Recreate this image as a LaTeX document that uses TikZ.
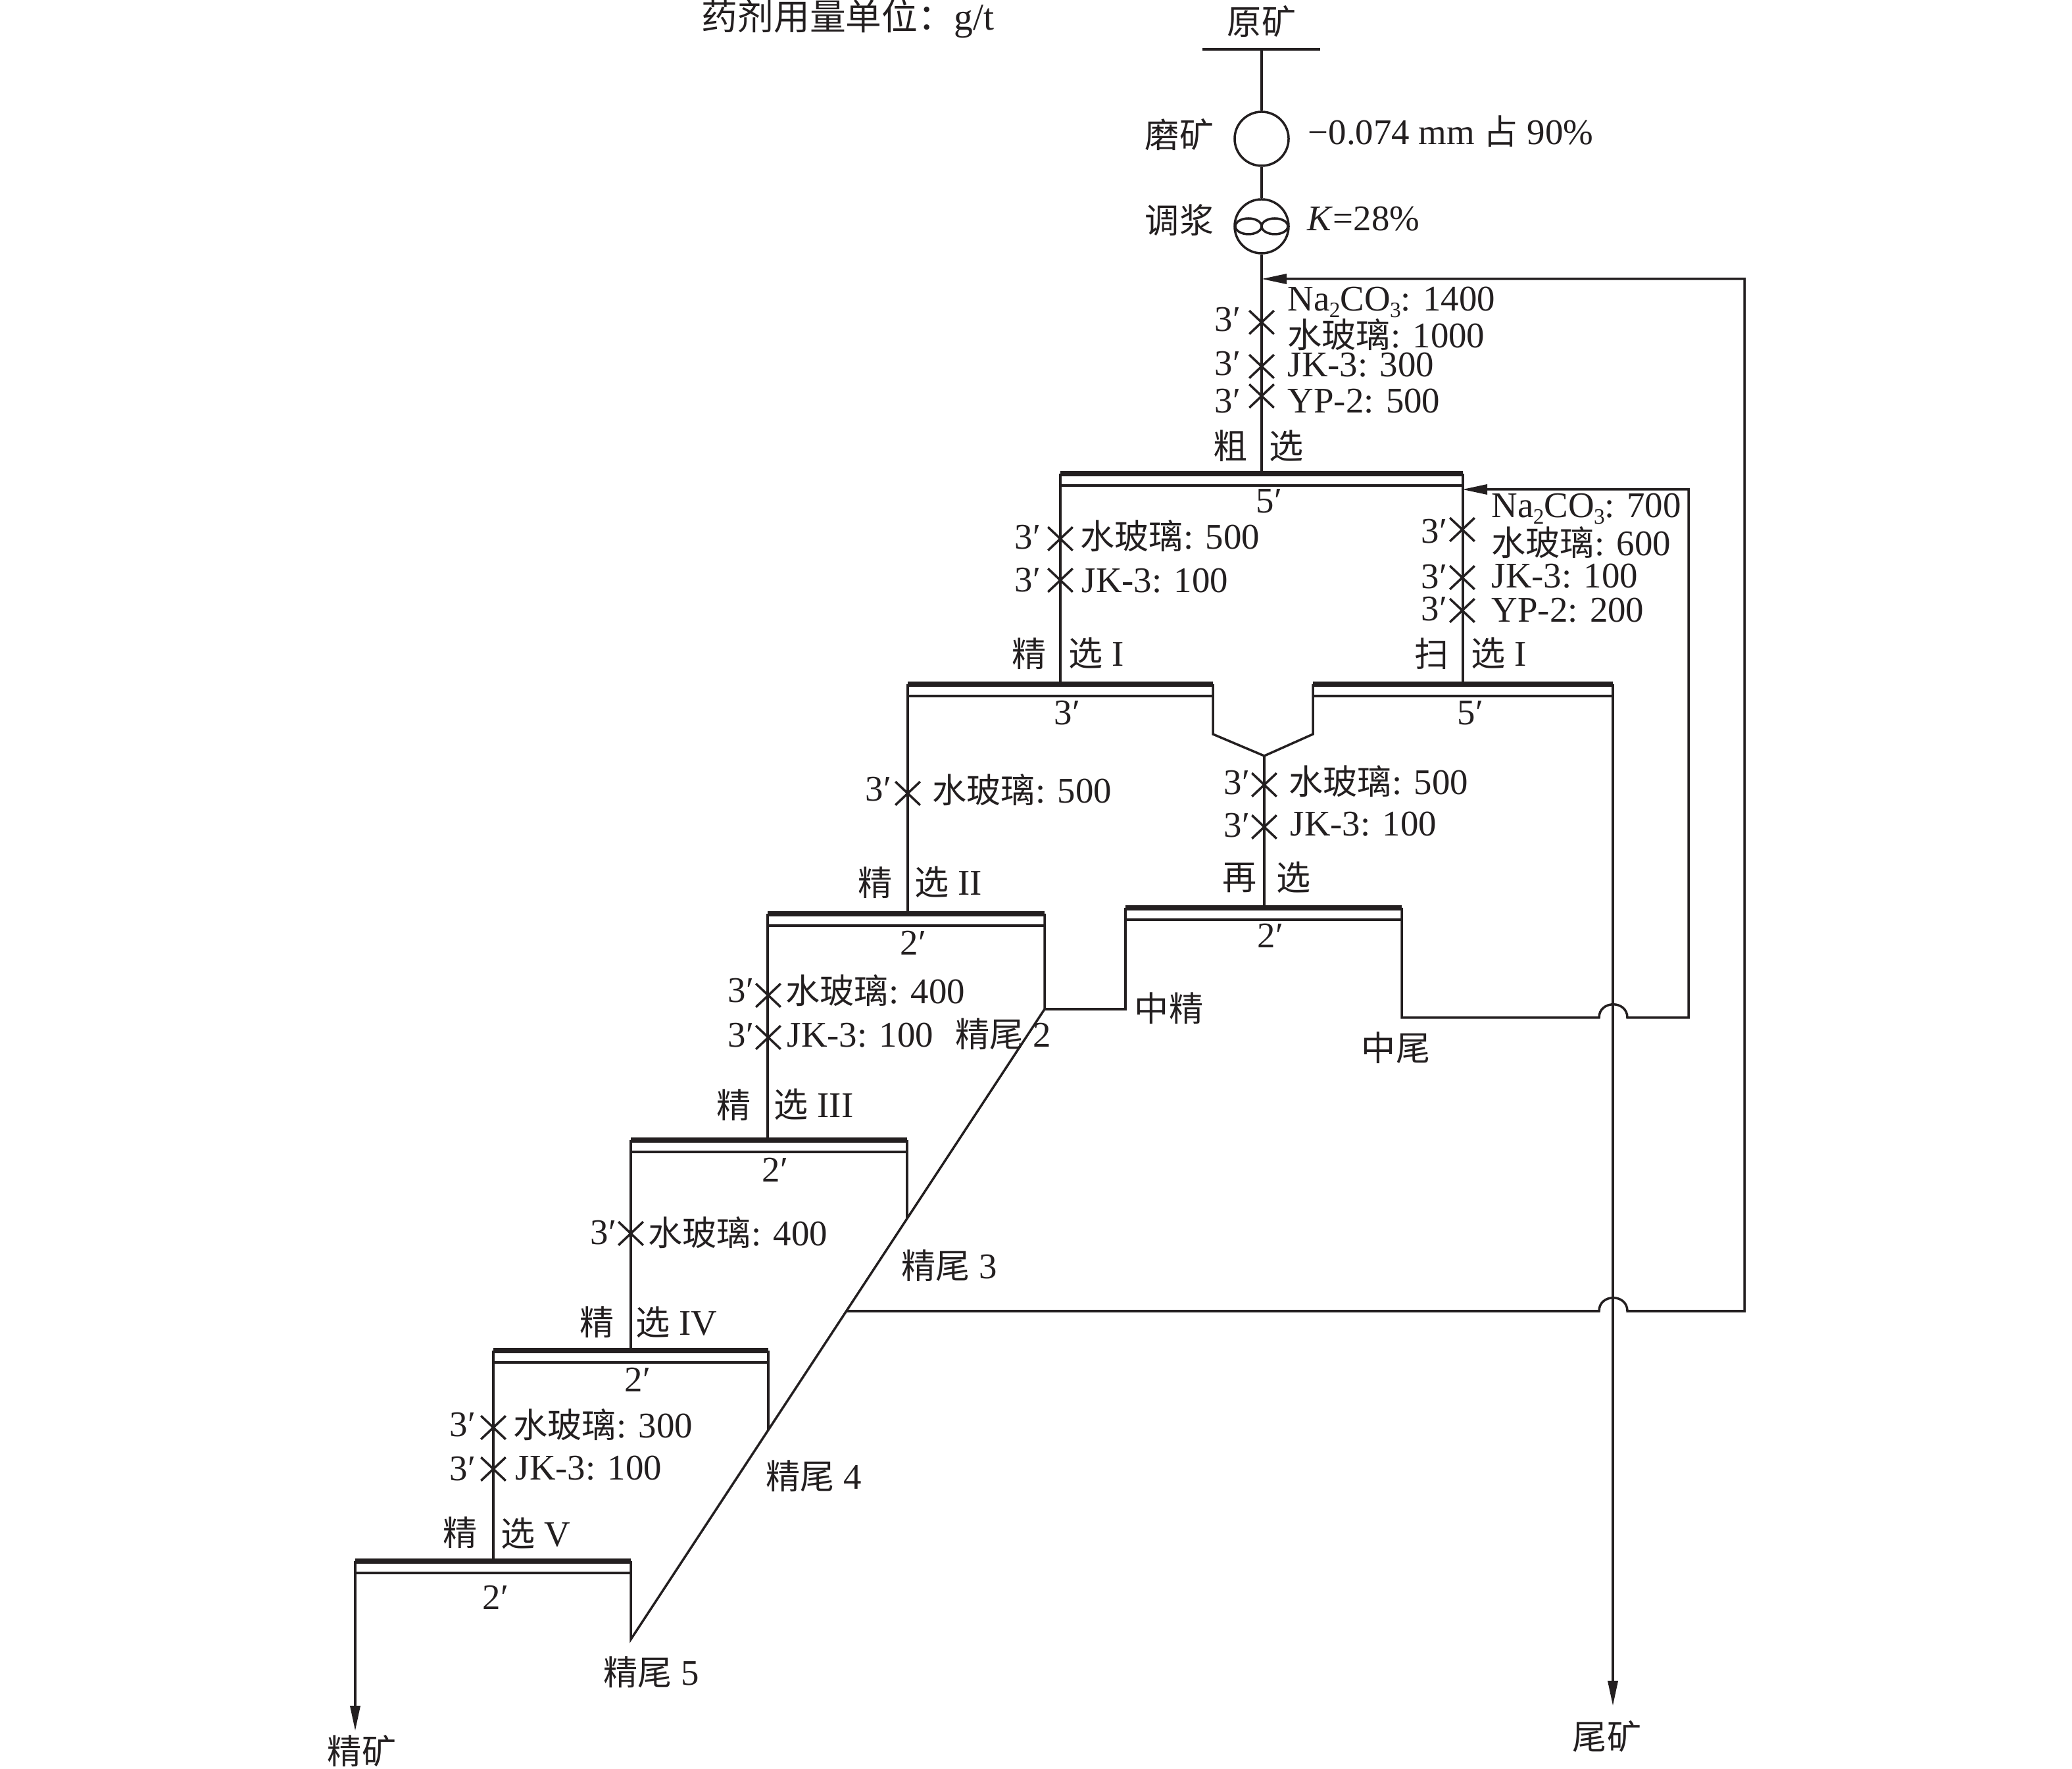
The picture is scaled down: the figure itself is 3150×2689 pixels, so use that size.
\documentclass[tikz,border=0pt]{standalone}
\usepackage{fontspec}
\setmainfont{Liberation Serif}
\newfontfamily\cjkfont[Scale=0.95]{Noto Sans CJK SC}
\newcommand{\zh}[1]{{\cjkfont #1}}
\newcommand{\chem}[1]{\kern-0.2pt\raisebox{-0.17em}{\fontsize{9.5}{9.5}\selectfont #1}}
\usetikzlibrary{arrows.meta,shapes.misc}
\definecolor{ink}{HTML}{231F20}
\tikzset{
  pipe/.style={draw=ink,line width=0.035cm,line join=miter},
  flow/.style={pipe,-{Triangle[length=0.38cm,width=0.15cm]}},
  cellbar/.style={draw=ink,line width=0.08cm},
  lab/.style={anchor=base west,inner sep=0pt,text=ink,font=\fontsize{15.6}{18}\selectfont},
  zhlab/.style={lab,anchor=center},
  stir/.style={draw=ink,line width=0.035cm,cross out,inner sep=0pt,minimum width=0.34cm,minimum height=0.32cm},
  tank/.style={circle,draw=ink,line width=0.035cm,inner sep=0pt,minimum size=0.82cm},
}
% name, left x, right x, y of the heavy line
\newcommand{\cell}[4]{
  \coordinate (#1l) at (#2,#4);
  \coordinate (#1r) at (#3,#4);
  \draw[cellbar] (#1l) -- (#1r);
  \draw[pipe] (#2,#4+18) -- (#3,#4+18);
}
\begin{document}
\begin{tikzpicture}[x=0.01cm,y=-0.01cm]
  \useasboundingbox (0,0) rectangle (3150,2689);

  % cells
  \cell{ro}{1612}{2224}{720}
  \cell{ca}{1380}{1844}{1040}
  \cell{sc}{1996}{2452}{1040}
  \cell{re}{1711}{2131}{1380}
  \cell{cb}{1167}{1588}{1389}
  \cell{cc}{959}{1379}{1733}
  \cell{cd}{750}{1168}{2053}
  \cell{ce}{540}{959}{2373}

  % feed end
  \coordinate (feedl) at (1828,75);
  \coordinate (feedr) at (2007,75);
  \coordinate (feed) at (1918,75);
  \node[tank] (mill) at (1918,211) {};
  \node[tank] (cond) at (1918,344) {};
  \draw[pipe] (feedl) -- (feedr);
  \draw[pipe] (feed) -- (mill);
  \draw[pipe] (mill) -- (cond);
  \draw[pipe] (cond) -- (1918,720);
  \draw[pipe] (cond.center) ++(-20,0) ellipse (20 and 12);
  \draw[pipe] (cond.center) ++(20,0) ellipse (20 and 12);

  % joints
  \coordinate (vee) at (1922,1149);
  \coordinate (midjoin) at (1588,1534);
  \coordinate (slopeend) at (959,2492);
  \coordinate (hopal) at (2431,1547);
  \coordinate (hopar) at (2474,1547);
  \coordinate (hopbl) at (2431,1993);
  \coordinate (hopbr) at (2474,1993);
  \coordinate (slopetap) at (1286,1993);
  \coordinate (feedin) at (1918,424);
  \coordinate (scavin) at (2223,744);
  \coordinate (concout) at (540,2631);
  \coordinate (tailout) at (2452,2593);

  % concentrate side
  \draw[pipe] (rol) -- (rol |- cal);
  \draw[pipe] (cal) -- (cal |- cbl);
  \draw[pipe] (cbl) -- (cbl |- ccl);
  \draw[pipe] (ccl) -- (ccl |- cdl);
  \draw[pipe] (cdl) -- (cdl |- cel);
  \draw[flow] (cel) -- (concout);

  % scavenger and cleaner tails
  \draw[pipe] (ror) -- (ror |- scl);
  \draw[pipe] (car) -- (1844,1116) -- (vee) -- (1996,1116) -- (scl);
  \draw[pipe] (vee) -- (vee |- rel);
  \draw[flow] (scr) -- (tailout);
  \draw[pipe] (cbr) -- (midjoin) -- (slopeend) -- (cer);
  \draw[pipe] (ccr) -- (1379,1851);
  \draw[pipe] (cdr) -- (1168,2173);
  \draw[pipe] (rel) -- (1711,1534) -- (midjoin);
  \draw[flow] (rer) -- (2131,1547) -- (hopal) .. controls +(0,-27) and +(0,-27) .. (hopar) -- (2567,1547) -- (2567,744) -- (scavin);
  \draw[flow] (slopetap) -- (hopbl) .. controls +(0,-27) and +(0,-27) .. (hopbr) -- (2652,1993) -- (2652,424) -- (feedin);

  % stirring marks
  \node[stir] (xa) at (1918,490) {};
  \node[stir] (xb) at (1918,557) {};
  \node[stir] (xc) at (1918,602) {};
  \node[stir] (xd) at (1612,819) {};
  \node[stir] (xe) at (1612,882) {};
  \node[stir] (xf) at (2223,805) {};
  \node[stir] (xg) at (2223,878) {};
  \node[stir] (xh) at (2223,928) {};
  \node[stir] (xi) at (1922,1193) {};
  \node[stir] (xj) at (1922,1257) {};
  \node[stir] (xk) at (1380,1206) {};
  \node[stir] (xl) at (1168,1513) {};
  \node[stir] (xm) at (1168,1577) {};
  \node[stir] (xn) at (959,1875) {};
  \node[stir] (xo) at (750,2170) {};
  \node[stir] (xp) at (750,2233) {};

  % head
  \node[lab,font=\fontsize{16.4}{18}\selectfont] (unit) at (1066,46) {\zh{药剂用量单位：}g/t};
  \node[zhlab] (orein) at (1918,33) {\zh{原矿}};
  \node[zhlab] (milllab) at (1793,205) {\zh{磨矿}};
  \node[lab] (grind) at (1988,220) {−0.074 mm \zh{占} 90\%};
  \node[zhlab] (condlab) at (1793,335) {\zh{调浆}};
  \node[lab] (solids) at (1987,351) {\textit{K}=28\%};

  % rougher
  \node[lab] (ta) at (1846,504) {3′};
  \node[lab] (tb) at (1846,571) {3′};
  \node[lab] (tc) at (1846,628) {3′};
  \node[lab] (ra) at (1957,473) {Na\chem{2}CO\chem{3}: 1400};
  \node[lab] (rb) at (1957,529) {\zh{水玻璃}: 1000};
  \node[lab] (rc) at (1957,573) {JK-3: 300};
  \node[lab] (rd) at (1957,628) {YP-2: 500};
  \node[zhlab] (rolaba) at (1871,678) {\zh{粗}};
  \node[zhlab] (rolabb) at (1956,678) {\zh{选}};
  \node[lab] (rot) at (1909,780) {5′};

  % cleaner I
  \node[lab] (td) at (1542,835) {3′};
  \node[lab] (te) at (1542,900) {3′};
  \node[lab] (cae) at (1642,835) {\zh{水玻璃}: 500};
  \node[lab] (caf) at (1644,901) {JK-3: 100};
  \node[zhlab] (calaba) at (1565,994) {\zh{精}};
  \node[lab] (calabb) at (1624,1013) {\zh{选} I};
  \node[lab] (cat) at (1602,1102) {3′};

  % scavenger
  \node[lab] (tf) at (2160,826) {3′};
  \node[lab] (tg) at (2160,895) {3′};
  \node[lab] (th) at (2160,944) {3′};
  \node[lab] (sa) at (2267,787) {Na\chem{2}CO\chem{3}: 700};
  \node[lab] (sb) at (2267,845) {\zh{水玻璃}: 600};
  \node[lab] (sc) at (2267,894) {JK-3: 100};
  \node[lab] (sd) at (2267,946) {YP-2: 200};
  \node[zhlab] (sclaba) at (2177,994) {\zh{扫}};
  \node[lab] (sclabb) at (2236,1013) {\zh{选} I};
  \node[lab] (sct) at (2215,1102) {5′};

  % recleaner
  \node[lab] (ti) at (1860,1208) {3′};
  \node[lab] (tj) at (1860,1273) {3′};
  \node[lab] (rea) at (1959,1208) {\zh{水玻璃}: 500};
  \node[lab] (reb) at (1961,1271) {JK-3: 100};
  \node[zhlab] (relaba) at (1885,1334) {\zh{再}};
  \node[zhlab] (relabb) at (1967,1334) {\zh{选}};
  \node[lab] (ret) at (1911,1441) {2′};
  \node[zhlab] (midc) at (1777,1533) {\zh{中精}};
  \node[zhlab] (midt) at (2122,1593) {\zh{中尾}};

  % cleaner II
  \node[lab] (tk) at (1315,1218) {3′};
  \node[lab] (cba) at (1417,1221) {\zh{水玻璃}: 500};
  \node[zhlab] (cblaba) at (1331,1342) {\zh{精}};
  \node[lab] (cblabb) at (1390,1361) {\zh{选} II};
  \node[lab] (cbt) at (1368,1452) {2′};

  % cleaner III
  \node[lab] (tl) at (1106,1524) {3′};
  \node[lab] (tm) at (1106,1592) {3′};
  \node[lab] (cca) at (1194,1526) {\zh{水玻璃}: 400};
  \node[lab] (ccb) at (1196,1592) {JK-3: 100};
  \node[lab] (tailb) at (1452,1592) {\zh{精尾} 2};
  \node[zhlab] (cclaba) at (1116,1680) {\zh{精}};
  \node[lab] (cclabb) at (1176,1699) {\zh{选} III};
  \node[lab] (cct) at (1158,1797) {2′};

  % cleaner IV
  \node[lab] (tn) at (897,1892) {3′};
  \node[lab] (cda) at (985,1894) {\zh{水玻璃}: 400};
  \node[lab] (tailc) at (1370,1944) {\zh{精尾} 3};
  \node[zhlab] (cdlaba) at (908,2010) {\zh{精}};
  \node[lab] (cdlabb) at (966,2029) {\zh{选} IV};
  \node[lab] (cdt) at (949,2116) {2′};

  % cleaner V
  \node[lab] (to) at (683,2183) {3′};
  \node[lab] (tp) at (683,2250) {3′};
  \node[lab] (cea) at (780,2185) {\zh{水玻璃}: 300};
  \node[lab] (ceb) at (783,2249) {JK-3: 100};
  \node[lab] (taild) at (1164,2263) {\zh{精尾} 4};
  \node[zhlab] (celaba) at (700,2330) {\zh{精}};
  \node[lab] (celabb) at (761,2350) {\zh{选} V};
  \node[lab] (cet) at (733,2446) {2′};
  \node[lab] (taile) at (917,2561) {\zh{精尾} 5};

  % products
  \node[zhlab] (conc) at (550,2662) {\zh{精矿}};
  \node[zhlab] (tail) at (2443,2640) {\zh{尾矿}};
\end{tikzpicture}
\end{document}
